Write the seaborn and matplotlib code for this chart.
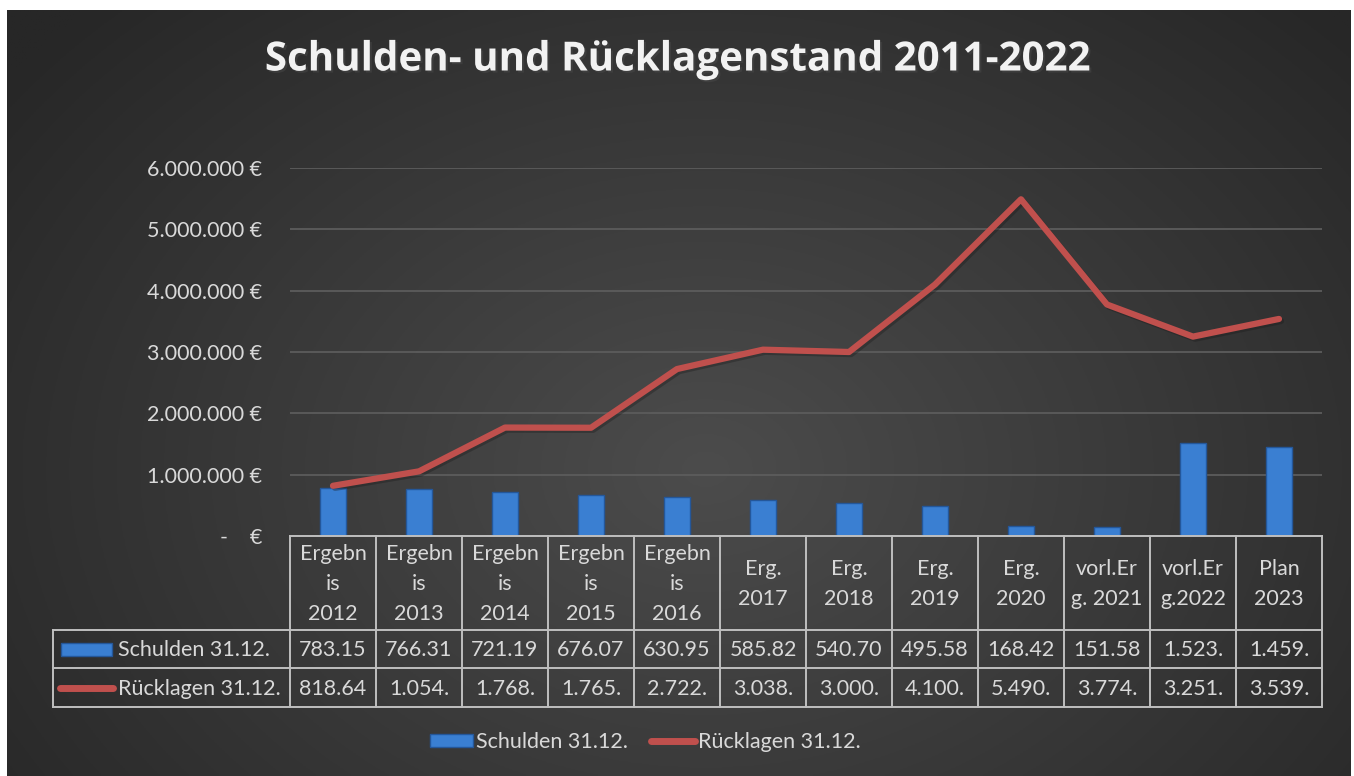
import numpy as np
import matplotlib.pyplot as plt
import seaborn as sns
import matplotlib.patheffects as pe
from matplotlib.patches import Patch, Rectangle
from matplotlib.lines import Line2D
from matplotlib.ticker import FuncFormatter

# data
jahre = ["Ergebn\nis\n2012", "Ergebn\nis\n2013", "Ergebn\nis\n2014", "Ergebn\nis\n2015",
         "Ergebn\nis\n2016", "Erg.\n2017", "Erg.\n2018", "Erg.\n2019", "Erg.\n2020",
         "vorl.Er\ng. 2021", "vorl.Er\ng.2022", "Plan\n2023"]
schulden = [783150, 766310, 721190, 676070, 630950, 585820, 540700, 495580,
            168420, 151580, 1523000, 1459000]
ruecklagen = [818640, 1054000, 1768000, 1765000, 2722000, 3038000, 3000000, 4100000,
              5490000, 3774000, 3251000, 3539000]
reihen = ["Schulden 31.12.", "Rücklagen 31.12."]
titel = "Schulden- und Rücklagenstand 2011-2022"

BLAU = "#3a7fd2"
ROT = "#c0504d"
TXT = "#d9d9d9"
LINIE = "#bfbfbf"
FS = 15.5
W, H = 1354, 776

sns.set_theme(style="dark")
plt.rcParams['font.family'] = ['Lato', 'DejaVu Sans']


def px(x0, y0, x1, y1):
    # pixel box (top-left origin) -> figure fraction rect
    return [x0 / W, 1 - y1 / H, (x1 - x0) / W, (y1 - y0) / H]


def eur(v, pos=None):
    if v == 0:
        return "-    €"
    return f"{v:,.0f} €".replace(",", ".")


def zelle(v):
    # Excel cuts the numbers off at the cell border
    return f"{v:,.0f}".replace(",", ".")[:6]


fig = plt.figure(figsize=(W / 100, H / 100), dpi=100, facecolor="white")

# dark radial background
bg = fig.add_axes(px(7, 10, 1351, 776))
yy, xx = np.mgrid[0:1:300j, 0:1:500j]
r = np.sqrt(((xx - 0.52) / 0.65) ** 2 + ((yy - 0.6) / 0.85) ** 2)
g = (0x27 + (0x4c - 0x27) * np.clip(1 - r, 0, 1)) / 255
bg.imshow(np.dstack([g, g, g]), aspect="auto")
bg.axis("off")

# chart
ax = fig.add_axes(px(290, 168, 1322, 536))
ax.set_facecolor("none")
idx = np.arange(len(jahre))
sns.barplot(x=idx, y=schulden, color=BLAU, saturation=1, width=0.3,
            edgecolor="#24579a", linewidth=1, ax=ax, zorder=3)
sns.lineplot(x=idx, y=ruecklagen, color=ROT, lw=4.5, ax=ax, zorder=4,
             solid_capstyle="round", solid_joinstyle="round",
             path_effects=[pe.SimpleLineShadow(offset=(1.5, -1.5), alpha=0.35), pe.Normal()])
ax.set_xlim(-0.5, len(jahre) - 0.5)
ax.set_ylim(0, 6e6)
ax.set_yticks(np.arange(0, 6.5e6, 1e6))
ax.yaxis.set_major_formatter(FuncFormatter(eur))
ax.set_xticks([])
ax.set_xlabel("")
ax.tick_params(axis="y", length=0, pad=20, labelsize=FS, labelcolor=TXT)
ax.yaxis.grid(True, color="#5c5c5c", lw=1.3)
ax.xaxis.grid(False)
for s in ax.spines.values():
    s.set_visible(False)

# data table under the chart
tab = fig.add_axes(px(53, 536, 1322, 707))
tab.set_facecolor("none")
tab.axis("off")


def u(p):
    return (p - 290) / 86 - 0.5


n = len(jahre)
tab.set_xlim(u(53), n - 0.5)
tab.set_ylim(707, 536)
kw = dict(color=LINIE, lw=1.4, clip_on=False, solid_capstyle="projecting")
tab.plot([-0.5, n - 0.5], [536, 536], **kw)
for y in [630, 668, 707]:
    tab.plot([u(53), n - 0.5], [y, y], **kw)
for k in range(n + 1):
    tab.plot([k - 0.5, k - 0.5], [536, 707], **kw)
tab.plot([u(53), u(53)], [630, 707], **kw)

for i, lab in enumerate(jahre):
    tab.text(i, 584, lab, ha="center", va="center", fontsize=FS, color=TXT, linespacing=1.6)
    tab.text(i, 650, zelle(schulden[i]), ha="center", va="center", fontsize=FS, color=TXT)
    tab.text(i, 689, zelle(ruecklagen[i]), ha="center", va="center", fontsize=FS, color=TXT)

tab.add_patch(Rectangle((u(61), 643), u(112) - u(61), 13, facecolor=BLAU,
                        edgecolor="#24579a", lw=1, clip_on=False))
tab.plot([u(60), u(113)], [688, 688], color=ROT, lw=5, solid_capstyle="round", clip_on=False)
tab.text(u(118), 650, reihen[0], ha="left", va="center", fontsize=FS, color=TXT)
tab.text(u(118), 689, reihen[1], ha="left", va="center", fontsize=FS, color=TXT)

# legend
handles = [Patch(facecolor=BLAU, edgecolor="#24579a"),
           Line2D([], [], color=ROT, lw=5, solid_capstyle="round")]
fig.legend(handles, reihen, loc="center", bbox_to_anchor=(645 / W, 1 - 742 / H), ncol=2,
           frameon=False, fontsize=FS, labelcolor=TXT, handlelength=2.0,
           handleheight=0.6, handletextpad=0.15, columnspacing=1.1)

fig.text(677 / W, 1 - 60 / H, titel, ha="center", va="center", fontsize=29,
         fontweight="bold", color="#f2f2f2", family=["Open Sans", "DejaVu Sans"],
         path_effects=[pe.withSimplePatchShadow(offset=(1.5, -1.5), alpha=0.5)])

fig.savefig("out.png", dpi=100, facecolor="white")
